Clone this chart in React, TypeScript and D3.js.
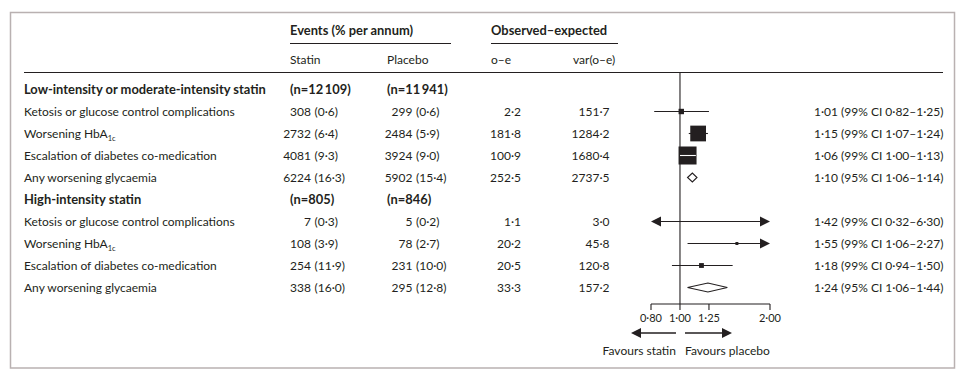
import React from 'react';
import * as d3 from 'd3';

// ---------- data ----------
const groupLabels = ['Low-intensity or moderate-intensity statin', 'High-intensity statin'];
const groupStatinN = ['(n=12\u2009109)', '(n=805)'];
const groupPlaceboN = ['(n=11\u2009941)', '(n=846)'];

const outcomeLabels = [
  'Ketosis or glucose control complications',
  'Worsening HbA',
  'Escalation of diabetes co-medication',
  'Any worsening glycaemia',
];
const outcomeSubscripts = ['', '1c', '', ''];
const outcomeIsTotal = [false, false, false, true];

const statinEvents = [308, 2732, 4081, 6224, 7, 108, 254, 338];
const statinPct = [0.6, 6.4, 9.3, 16.3, 0.3, 3.9, 11.9, 16.0];
const placeboEvents = [299, 2484, 3924, 5902, 5, 78, 231, 295];
const placeboPct = [0.6, 5.9, 9.0, 15.4, 0.2, 2.7, 10.0, 12.8];
const obsMinusExp = [2.2, 181.8, 100.9, 252.5, 1.1, 20.2, 20.5, 33.3];
const varObsMinusExp = [151.7, 1284.2, 1680.4, 2737.5, 3.0, 45.8, 120.8, 157.2];
const ratio = [1.01, 1.15, 1.06, 1.10, 1.42, 1.55, 1.18, 1.24];
const ciLow = [0.82, 1.07, 1.0, 1.06, 0.32, 1.06, 0.94, 1.06];
const ciHigh = [1.25, 1.24, 1.13, 1.14, 6.3, 2.27, 1.5, 1.44];
const ciLevel = [99, 99, 99, 95, 99, 99, 99, 95];

const axisTicks = [0.8, 1.0, 1.25, 2.0];
const axisDomain = [0.8, 2.0];

// ---------- helpers ----------
const dot = (s: string) => s.replace('.', '\u00B7');
const f1 = (v: number) => dot(v.toFixed(1));
const f2 = (v: number) => dot(v.toFixed(2));

const INK = '#231f20';
const FONT = "Lato, 'Open Sans', sans-serif";

export default function App() {
  const W = 960;
  const H = 376;

  const x = d3.scaleLog().domain(axisDomain).range([651, 770]);
  const rowY = d3.scaleLinear().domain([0, 9]).range([89.5, 287.5]);
  const nonTotalVars = varObsMinusExp.filter((_, i) => !outcomeIsTotal[i % 4]);
  const box = d3.scaleSqrt().domain([0, d3.max(nonTotalVars) as number]).range([0, 18]);

  const axisY = 304;
  const x1 = x(1);
  const xMin = x(axisDomain[0]);
  const xMax = x(axisDomain[1]);

  const rows: any[] = [];
  groupLabels.forEach((g, gi) => {
    rows.push({ type: 'group', gi, r: gi * 5 });
    outcomeLabels.forEach((_, j) => {
      rows.push({ type: 'outcome', j, d: gi * 4 + j, r: gi * 5 + 1 + j });
    });
  });

  const arrowHead = (tipX: number, y: number, dir: number, len = 10, half = 5) =>
    `M${tipX},${y}L${tipX - dir * len},${y - half}L${tipX - dir * len},${y + half}Z`;

  const text = { fontFamily: FONT, fontSize: 12, fill: INK } as any;
  const bold = { fontFamily: FONT, fontSize: 12.9, fill: INK, fontWeight: 'bold' } as any;

  return (
    <svg width={W} height={H} style={{ position: 'absolute', left: 0, top: 0, display: 'block', background: '#fff' }}>
      <rect x={10.5} y={12.5} width={944} height={355.5} fill="#fff" stroke="#b9b1b1" strokeWidth={1.5} />

      {/* headers */}
      <text x={290} y={34.5} {...bold}>Events (% per annum)</text>
      <line x1={290} x2={451} y1={43.5} y2={43.5} stroke={INK} strokeWidth={1} />
      <text x={491} y={34.5} {...bold}>Observed{'\u2013'}expected</text>
      <line x1={491} x2={618} y1={43.5} y2={43.5} stroke={INK} strokeWidth={1} />
      <text x={290} y={63.5} {...text}>Statin</text>
      <text x={387} y={63.5} {...text}>Placebo</text>
      <text x={491} y={63.5} {...text}>o{'\u2013'}e</text>
      <text x={573} y={63.5} {...text}>var(o{'\u2013'}e)</text>
      <line x1={24} x2={943} y1={72.5} y2={72.5} stroke={INK} strokeWidth={1} />

      {/* reference line */}
      <line x1={x1} x2={x1} y1={72.5} y2={axisY} stroke={INK} strokeWidth={1.1} />

      {rows.map((row, k) => {
        const cy = rowY(row.r);
        const by = cy + 4;
        if (row.type === 'group') {
          return (
            <g key={k}>
              <text x={24} y={by} {...bold}>{groupLabels[row.gi]}</text>
              <text x={290} y={by} {...bold}>{groupStatinN[row.gi]}</text>
              <text x={387} y={by} {...bold}>{groupPlaceboN[row.gi]}</text>
            </g>
          );
        }
        const d = row.d;
        const j = row.j;
        const total = outcomeIsTotal[j];
        const lo = ciLow[d];
        const hi = ciHigh[d];
        const pt = ratio[d];
        const xl = x(Math.max(lo, axisDomain[0]));
        const xh = x(Math.min(hi, axisDomain[1]));
        const clipL = lo < axisDomain[0];
        const clipH = hi > axisDomain[1];
        const s = box(varObsMinusExp[d]);
        const px = x(pt);
        const inside = !clipL && !clipH && xl >= px - s / 2 - 0.5 && xh <= px + s / 2 + 0.5;
        return (
          <g key={k}>
            <text x={24} y={by} {...text}>
              {outcomeLabels[j]}
              {outcomeSubscripts[j] ? (
                <tspan fontSize={7.5} dy={3}>{outcomeSubscripts[j]}</tspan>
              ) : null}
            </text>
            <text x={311} y={by} {...text} textAnchor="end">{String(statinEvents[d])}</text>
            <text x={314.5} y={by} {...text}>({f1(statinPct[d])})</text>
            <text x={412.5} y={by} {...text} textAnchor="end">{String(placeboEvents[d])}</text>
            <text x={416} y={by} {...text}>({f1(placeboPct[d])})</text>
            <text x={521} y={by} {...text} textAnchor="end">{f1(obsMinusExp[d])}</text>
            <text x={609.5} y={by} {...text} textAnchor="end">{f1(varObsMinusExp[d])}</text>
            <text x={814} y={by} {...text}>
              {`${f2(pt)} (${ciLevel[d]}% CI ${f2(lo)}\u2013${f2(hi)})`}
            </text>
            {total ? (
              <path
                d={`M${x(lo)},${cy}L${px},${cy - 4.5}L${x(hi)},${cy}L${px},${cy + 4.5}Z`}
                fill="#fff"
                stroke={INK}
                strokeWidth={1.1}
              />
            ) : (
              <g>
                {!inside && (
                  <line
                    x1={clipL ? xl + 9 : xl}
                    x2={clipH ? xh - 9 : xh}
                    y1={cy}
                    y2={cy}
                    stroke={INK}
                    strokeWidth={1.1}
                  />
                )}
                {clipL && <path d={arrowHead(xl, cy, -1)} fill={INK} />}
                {clipH && <path d={arrowHead(xh, cy, 1)} fill={INK} />}
                <rect x={px - s / 2} y={cy - s / 2} width={s} height={s} fill={INK} />
                {inside && (
                  <line x1={xl} x2={xh} y1={cy} y2={cy} stroke="#fff" strokeWidth={1.1} />
                )}
              </g>
            )}
          </g>
        );
      })}

      {/* axis */}
      <line x1={xMin} x2={xMax} y1={axisY} y2={axisY} stroke={INK} strokeWidth={1.1} />
      {axisTicks.map((t) => (
        <g key={t}>
          <line x1={x(t)} x2={x(t)} y1={axisY} y2={axisY + 6} stroke={INK} strokeWidth={1.1} />
          <text x={x(t)} y={322} {...text} fontSize={11} textAnchor="middle">{f2(t)}</text>
        </g>
      ))}

      {/* favours arrows */}
      <line x1={x1 - 4} x2={x1 - 40} y1={333} y2={333} stroke={INK} strokeWidth={1.3} />
      <path d={arrowHead(x1 - 49, 333, -1, 10, 5)} fill={INK} />
      <line x1={x1 + 5} x2={x1 + 42} y1={333} y2={333} stroke={INK} strokeWidth={1.3} />
      <path d={arrowHead(x1 + 52, 333, 1, 10, 5)} fill={INK} />
      <text x={x1 - 4} y={355} {...text} textAnchor="end">Favours statin</text>
      <text x={x1 + 5} y={355} {...text}>Favours placebo</text>
    </svg>
  );
}
